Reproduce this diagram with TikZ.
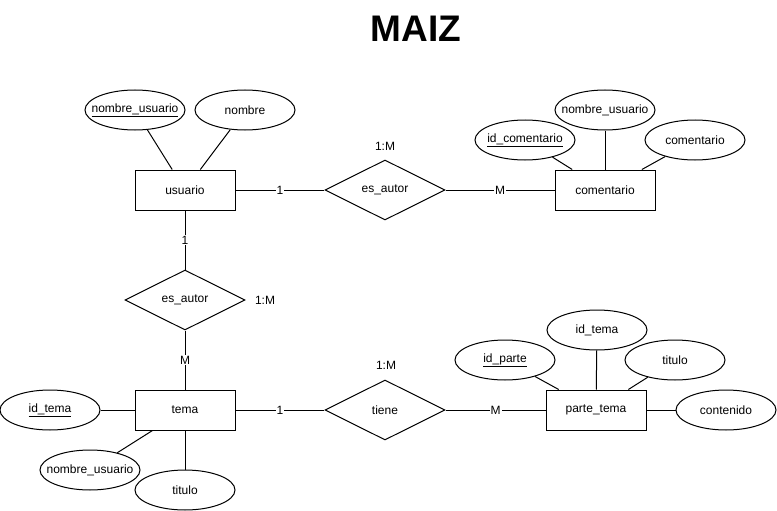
\documentclass[tikz,border=0pt]{standalone}
\usepackage{fontspec}
\setmainfont{Liberation Sans}
\usepackage{tikz}
\usetikzlibrary{shapes.geometric}

\begin{document}
\begin{tikzpicture}[x=1pt,
				y=-1pt,
				line width=1pt,
				font=\fontsize{12}{14}\selectfont,
				entidad/.style={draw, fill=white, rectangle, minimum width=100pt, minimum height=40pt, inner sep=0pt},
				atributo/.style={draw, fill=white, ellipse, minimum width=100pt, minimum height=40pt, inner sep=0pt},
				relacion/.style={draw, fill=white, diamond, aspect=2, minimum width=120pt, minimum height=60pt, inner sep=0pt},
				card/.style={fill=white, inner sep=1pt}]

				\useasboundingbox (0,0) rectangle (777,511);

				\node (titulo) at (416,29) {\fontsize{37}{40}\selectfont\bfseries MAIZ};

				\node[entidad] (usuario) at (185,190) {usuario};
				\node[entidad] (comentario) at (605,190) {comentario};
				\node[entidad] (tema) at (185,410) {tema};
				\node[entidad] (parte) at (596,410) {parte\_tema};

				\node[relacion] (autorA) at (385,190) {es\_autor};
				\node[relacion] (autorB) at (185,300) {es\_autor};
				\node[relacion] (tiene) at (385,410) {tiene};

				\node[atributo] (u1) at (135,110) {\makebox[0pt]{\underline{nombre\_usuario}}};
				\node[atributo] (u2) at (245,110) {\makebox[0pt]{nombre}};

				\node[atributo] (c1) at (525,140) {\makebox[0pt]{\underline{id\_comentario}}};
				\node[atributo] (c2) at (605,110) {\makebox[0pt]{nombre\_usuario}};
				\node[atributo] (c3) at (695,140) {\makebox[0pt]{comentario}};

				\node[atributo] (t1) at (50,410) {\makebox[0pt]{\underline{id\_tema}}};
				\node[atributo] (t2) at (90,470) {\makebox[0pt]{nombre\_usuario}};
				\node[atributo] (t3) at (185,490) {\makebox[0pt]{titulo}};

				\node[atributo] (p1) at (505,360) {\makebox[0pt]{\underline{id\_parte}}};
				\node[atributo] (p2) at (597,330) {\makebox[0pt]{id\_tema}};
				\node[atributo] (p3) at (675,360) {\makebox[0pt]{titulo}};
				\node[atributo] (p4) at (726,410) {\makebox[0pt]{contenido}};

				\node (rA) at (385,146) {1:M};
				\node (rB) at (265,300) {1:M};
				\node (rC) at (386,365) {1:M};

				\draw (u1) -- (usuario);
				\draw (u2) -- (usuario);
				\draw (c1) -- (comentario);
				\draw (c2) -- (comentario);
				\draw (c3) -- (comentario);
				\draw (t1) -- (tema);
				\draw ([xshift=18pt]tema.south west) -- (t2);
				\draw (t3) -- (tema);
				\draw (p1) -- (parte);
				\draw (p2) -- (parte);
				\draw (p3) -- (parte);
				\draw (p4) -- (parte);

				\draw (usuario) -- node[card] {1} (autorA);
				\draw (autorA) -- node[card] {M} (comentario);
				\draw (usuario) -- node[card] {1} (autorB);
				\draw (autorB) -- node[card] {M} (tema);
				\draw (tema) -- node[card] {1} (tiene);
				\draw (tiene) -- node[card] {M} (parte);
			\end{tikzpicture}
\end{document}
